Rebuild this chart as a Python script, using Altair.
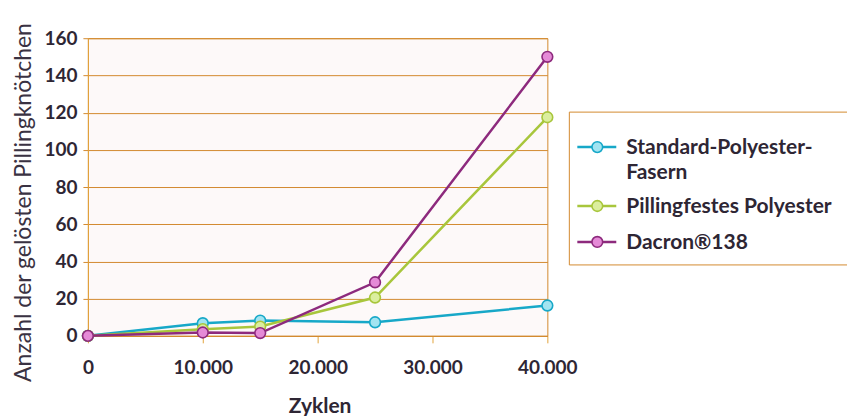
import altair as alt
import pandas as pd

# ---- data ----
cycles = [0, 10000, 15000, 25000, 40000]
series_names = ["Standard-Polyester-Fasern", "Pillingfestes Polyester", "Dacron®138"]
legend_labels = ["Standard-Polyester-\nFasern", "Pillingfestes Polyester", "Dacron®138"]
standard = [0, 6.8, 8.2, 7.3, 16.3]
pillingfest = [0, 3.6, 5.0, 20.6, 117.5]
dacron = [0, 1.8, 1.5, 28.8, 150]
y_ticks = [0, 20, 40, 60, 80, 100, 120, 140, 160]
x_ticks = [0, 10000, 20000, 30000, 40000]

line_colors = ["#17a8c8", "#a8c63c", "#8d2a7d"]
fill_colors = ["#a2e4f1", "#dbee9e", "#e58ad7"]
orange = "#d38a2f"
axis_yellow = "#e2a43c"
text_color = "#2e2634"
FONT = "Lato"

rows = []
for name, vals in zip(series_names, [standard, pillingfest, dacron]):
    for c, v in zip(cycles, vals):
        rows.append({"cycles": c, "value": v, "series": name})
df = pd.DataFrame(rows)

stroke_scale = alt.Scale(domain=series_names, range=line_colors)
fill_scale = alt.Scale(domain=series_names, range=fill_colors)

x_enc = alt.X(
    "cycles:Q",
    scale=alt.Scale(domain=[0, 40000], nice=False, zero=True),
    axis=alt.Axis(
        values=x_ticks,
        labelExpr="replace(format(datum.value, ','), ',', '.')",
        title="Zyklen",
        grid=False,
        domainColor=orange,
        tickColor=axis_yellow,
        tickSize=7,
        labelPadding=16,
        labelFont=FONT,
        labelFontSize=19,
        labelFontWeight="bold",
        labelColor=text_color,
        labelFlush=False,
        titleFont=FONT,
        titleFontSize=21,
        titleFontWeight="bold",
        titleColor=text_color,
        titleX=232,
        titleY=77,
        titleBaseline="alphabetic",
        titleAlign="center",
    ),
)
y_enc = alt.Y(
    "value:Q",
    scale=alt.Scale(domain=[0, 160], nice=False),
    axis=alt.Axis(
        values=y_ticks,
        title="Anzahl der gelösten Pillingknötchen",
        grid=True,
        gridColor=orange,
        gridWidth=1,
        domainColor=axis_yellow,
        tickColor=orange,
        tickSize=5,
        labelPadding=6,
        labelFont=FONT,
        labelFontSize=19,
        labelFontWeight="bold",
        labelColor=text_color,
        titleFont=FONT,
        titleFontSize=23,
        titleFontWeight="normal",
        titleColor="#3a3242",
        titleAngle=270,
        titleX=-57,
        titleY=164,
        titleBaseline="alphabetic",
        titleAlign="center",
    ),
)

base = alt.Chart(df)
lines = base.mark_line(strokeWidth=2.5).encode(
    x=x_enc,
    y=y_enc,
    stroke=alt.Stroke("series:N", scale=stroke_scale, legend=None),
)
points = base.mark_circle(size=115, strokeWidth=1.6, opacity=1).encode(
    x=x_enc,
    y=y_enc,
    fill=alt.Fill("series:N", scale=fill_scale, legend=None),
    stroke=alt.Stroke("series:N", scale=stroke_scale, legend=None),
)

# ---- legend (drawn as marks) ----
box_df = pd.DataFrame({"k": [0]})
legend_box = alt.Chart(box_df).mark_rect(fillOpacity=0, stroke=orange, strokeWidth=1).encode(
    x=alt.value(482), x2=alt.value(830), y=alt.value(74), y2=alt.value(227)
)
legend_layers = [legend_box]
entry_y = [109, 168, 204]
for i, name in enumerate(series_names):
    ldf = pd.DataFrame({"series": [name], "label": [legend_labels[i]]})
    lc = alt.Chart(ldf)
    legend_layers.append(
        lc.mark_rule(strokeWidth=2.5).encode(
            x=alt.value(490), x2=alt.value(529), y=alt.value(entry_y[i]),
            stroke=alt.Stroke("series:N", scale=stroke_scale, legend=None),
        )
    )
    legend_layers.append(
        lc.mark_circle(size=115, strokeWidth=1.6, opacity=1).encode(
            x=alt.value(510), y=alt.value(entry_y[i]),
            fill=alt.Fill("series:N", scale=fill_scale, legend=None),
            stroke=alt.Stroke("series:N", scale=stroke_scale, legend=None),
        )
    )
    legend_layers.append(
        lc.mark_text(
            align="left", baseline="alphabetic", dy=7, font=FONT, fontSize=21,
            fontWeight="bold", color=text_color, lineBreak="\n", lineHeight=25,
        ).encode(x=alt.value(539), y=alt.value(entry_y[i]), text="label:N")
    )

chart = (
    alt.layer(lines, points, *legend_layers)
    .properties(
        width=460,
        height=298,
        autosize=alt.AutoSizeParams(type="none"),
        padding={"left": 80, "top": 30, "right": 300, "bottom": 80},
        background="white",
    )
    .configure_view(stroke=orange, strokeWidth=1, fill="#fdf9f9")
)

chart.save("out.html", embed_options={"renderer": "svg", "actions": False})
